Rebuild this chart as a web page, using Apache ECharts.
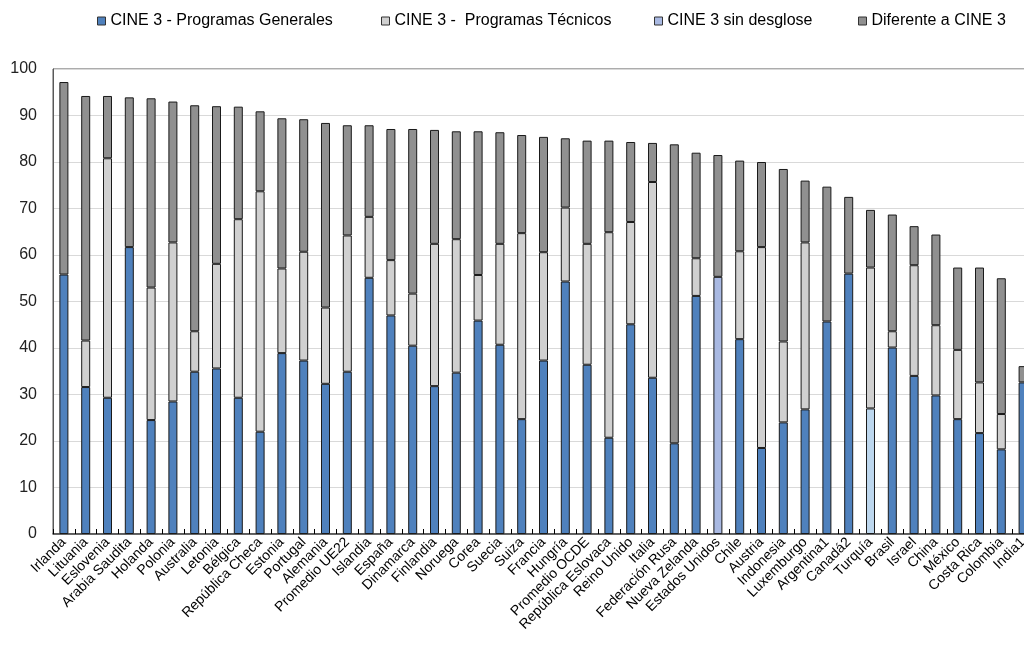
<!DOCTYPE html>
<html><head><meta charset="utf-8">
<script src="https://cdn.jsdelivr.net/npm/echarts@6/dist/echarts.min.js"></script>
<style>html,body{margin:0;padding:0;background:#fff}#c{width:1024px;height:647px}</style>
</head><body><div id="c"></div>
<script>
var categories = ['Irlanda','Lituania','Eslovenia','Arabia Saudita','Holanda','Polonia','Australia','Letonia','Bélgica','República Checa','Estonia','Portugal','Alemania','Promedio UE22','Islandia','España','Dinamarca','Finlandia','Noruega','Corea','Suecia','Suiza','Francia','Hungría','Promedio OCDE','República Eslovaca','Reino Unido','Italia','Federación Rusa','Nueva Zelanda','Estados Unidos','Chile','Austria','Indonesia','Luxemburgo','Argentina1','Canadá2','Turquía','Brasil','Israel','China','México','Costa Rica','Colombia','India1'];
var generales = [55.8,31.6,29.3,61.7,24.5,28.5,34.9,35.6,29.3,22.0,38.9,37.3,32.3,34.9,55.1,47.0,40.5,31.8,34.7,45.9,40.7,24.7,37.3,54.3,36.4,20.7,45.1,33.6,19.5,51.2,null,41.9,18.5,24.0,26.8,45.7,56.0,27.0,40.1,34.0,29.8,24.7,21.7,18.2,32.6];
var tecnicos = [null,10.0,51.5,null,28.5,34.2,8.7,22.5,38.4,51.7,18.2,23.4,16.4,29.3,13.1,11.9,11.2,30.6,28.7,9.8,21.7,40.0,23.3,15.9,26.0,44.2,22.0,42.1,null,8.1,null,18.9,43.2,17.4,35.9,null,null,30.3,3.5,23.8,15.1,14.9,10.9,7.6,null];
var sinDesglose = [null,null,null,null,null,null,null,null,null,null,null,null,null,null,null,null,null,null,null,null,null,null,null,null,null,null,null,null,null,null,55.3,null,null,null,null,null,null,null,null,null,null,null,null,null,null];
var diferente = [41.4,52.6,13.4,32.2,40.7,30.3,48.6,33.9,24.2,17.2,32.3,28.5,39.7,23.7,19.7,28.2,35.4,24.5,23.2,30.9,24.0,21.1,24.8,14.9,22.2,19.7,17.2,8.4,64.3,22.7,26.2,19.5,18.3,37.1,13.3,29.0,16.5,12.4,25.1,8.4,19.5,17.7,24.7,29.2,3.5];
var yTicks = [0,10,20,30,40,50,60,70,80,90,100];
var lightGeneralesCats = ['Turquía'];
var seriesNames = ['CINE 3 - Programas Generales','CINE 3 -  Programas Técnicos','CINE 3 sin desglose','Diferente a CINE 3'];

var colors = ['#4f81bd','#d0d0d0','#a9b9e2','#909090'];
var genData = generales.map(function(v,i){
  if (lightGeneralesCats.indexOf(categories[i]) >= 0) return {value:v, itemStyle:{color:'#bdd7ee'}};
  return v;
});
var datas = [genData, tecnicos, sinDesglose, diferente];
var font = 'Liberation Sans, Arial, sans-serif';
var legendLefts = [92, 376, 649, 853];

var chart = echarts.init(document.getElementById('c'));
chart.setOption({
  animation:false,
  textStyle:{fontFamily:font},
  legend: seriesNames.map(function(n,i){
    return {data:[n], left:legendLefts[i], top:8, itemWidth:8, itemHeight:8, itemGap:4,
      icon:'rect', textStyle:{fontSize:16, color:'#000', fontFamily:font},
      itemStyle:{borderColor:'#333', borderWidth:1}};
  }),
  grid:{left:53, right:-10, top:69, bottom:113, outerBoundsMode:'none', containLabel:false, show:true, borderColor:'#595959', borderWidth:1, backgroundColor:'transparent'},
  xAxis:{type:'category', data:categories,
    axisLine:{lineStyle:{color:'#404040', width:1.5}},
    axisTick:{show:true, inside:true, length:5, lineStyle:{color:'#000'}},
    axisLabel:{rotate:45, fontSize:14, color:'#000', margin:6, interval:0, fontFamily:font}
  },
  yAxis:{type:'value', min:yTicks[0], max:yTicks[yTicks.length-1], interval:10,
    axisLine:{show:true, lineStyle:{color:'#595959', width:1}},
    axisTick:{show:false},
    axisLabel:{fontSize:16, color:'#222', margin:16, fontFamily:font},
    splitLine:{lineStyle:{color:'#d9d9d9', width:1}}
  },
  series: seriesNames.map(function(n,i){
    return {name:n, type:'bar', stack:'t', data:datas[i], barWidth:9,
      itemStyle:{color:colors[i], borderColor:'#1a1a1a', borderWidth:1}};
  })
});
</script></body></html>
